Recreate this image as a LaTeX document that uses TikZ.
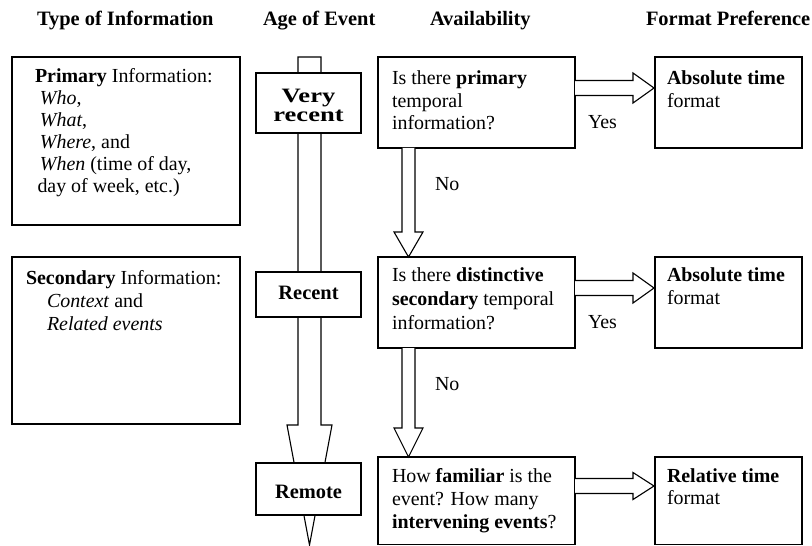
\documentclass[tikz,border=0pt]{standalone}
\usepackage{fontspec}
\setmainfont{Liberation Serif}
\usetikzlibrary{calc}
\newcommand\mlines[2]{\vtop{\baselineskip=#1\lineskiplimit=-100bp\lineskip=0pt\halign{##\hfil\cr#2\crcr}}}
\newcommand\mlinesc[2]{\vtop{\baselineskip=#1\lineskiplimit=-100bp\lineskip=0pt\halign{\hfil##\hfil\cr#2\crcr}}}
\begin{document}
\begin{tikzpicture}[x=1bp,y=-1bp,
  box/.style={draw, fill=white, line width=1.1bp, inner sep=0pt, outer sep=0pt, anchor=north west},
  txt/.style={inner sep=0pt, outer sep=0pt, anchor=base west, font=\fontsize{20}{23}\selectfont},
  head/.style={txt, font=\fontsize{20.5}{23}\selectfont\bfseries},
  age/.style={inner sep=0pt, outer sep=0pt, anchor=base, font=\fontsize{20.5}{23}\selectfont\bfseries},
  blk/.style={draw, fill=white, line width=1.1bp, line join=miter}]
\useasboundingbox (0,0) rectangle (812,546);

% headers
\node[head] (h1) at (37,26) {Type of Information};
\node[head] (h2) at (263,26) {Age of Event};
\node[head] (h3) at (430,26) {Availability};
\node[head] (h4) at (646,26) {Format Preference};

% big age arrow
\coordinate (atop) at (309.5,57);
\coordinate (atip) at (309.5,545);
\draw[blk] ($(atop)+(-11.5,0)$) -- ($(atip)+(-11.5,-120)$) -- ($(atip)+(-22.5,-120)$) -- (atip)
  -- ($(atip)+(22.5,-120)$) -- ($(atip)+(11.5,-120)$) -- ($(atop)+(11.5,0)$) -- cycle;

% information boxes
\node[box, minimum width=228bp, minimum height=168bp] (info1) at (12,57) {};
\node[box, minimum width=228bp, minimum height=167bp] (info2) at (12,257) {};
\node[txt] (info1t) at ($(info1.north west)+(23,25.5)$) {\mlines{22bp}{%
  \textbf{Primary} Information:\cr
  \ \textit{Who},\cr
  \ \textit{What},\cr
  \ \textit{Where}, and\cr
  \ \textit{When} (time of day,\cr
  \hspace*{2.5bp}day of week, etc.)\cr}};
\node[txt] (info2t) at ($(info2.north west)+(14,28)$) {\mlines{22.5bp}{%
  \textbf{Secondary} Information:\cr
  \hspace*{21bp}\textit{Context} and\cr
  \hspace*{21bp}\textit{Related events}\cr}};

% age boxes
\node[box, minimum width=105bp, minimum height=60bp] (vr) at (256,73) {};
\node[box, minimum width=105bp, minimum height=45bp] (rc) at (256,272) {};
\node[box, minimum width=105bp, minimum height=52bp] (rm) at (256,463) {};
\node[age, font=\fontsize{20.5}{23}\selectfont\bfseries\addfontfeature{FakeStretch=1.3}] (vrt) at ($(vr.north)+(0,30)$) {\mlinesc{19bp}{Very\cr recent\cr}};
\node[age] (rct) at ($(rc.north)+(0,28)$) {Recent};
\node[age] (rmt) at ($(rm.north)+(0,35)$) {Remote};

% question boxes
\node[box, minimum width=197bp, minimum height=91bp] (q1) at (378,57) {};
\node[box, minimum width=197bp, minimum height=91bp] (q2) at (378,257) {};
\node[box, minimum width=197bp, minimum height=87.5bp] (q3) at (378,457) {};
\node[txt] (q1t) at ($(q1.north west)+(14,28)$) {\mlines{22.5bp}{%
  Is there \textbf{primary}\cr temporal\cr information?\cr}};
\node[txt] (q2t) at ($(q2.north west)+(14,25)$) {\mlines{23.5bp}{%
  Is there \textbf{distinctive}\cr \textbf{secondary} temporal\cr information?\cr}};
\node[txt] (q3t) at ($(q3.north west)+(14,25)$) {\mlines{23bp}{%
  How \textbf{familiar} is the\cr event? How many\cr \textbf{intervening events}?\cr}};

% format boxes
\node[box, minimum width=147bp, minimum height=91bp] (f1) at (655,57) {};
\node[box, minimum width=147bp, minimum height=91bp] (f2) at (655,257) {};
\node[box, minimum width=147bp, minimum height=87.5bp] (f3) at (655,457) {};
\node[txt] (f1t) at ($(f1.north west)+(12,28)$) {\mlines{22.5bp}{\textbf{Absolute time}\cr format\cr}};
\node[txt] (f2t) at ($(f2.north west)+(12,25)$) {\mlines{22.5bp}{\textbf{Absolute time}\cr format\cr}};
\node[txt] (f3t) at ($(f3.north west)+(12,25)$) {\mlines{22.5bp}{\textbf{Relative time}\cr format\cr}};

% yes arrows
\coordinate (r1s) at ($(q1.north east)+(0,31)$);
\coordinate (r1e) at ($(f1.north west)+(0,31)$);
\coordinate (r2s) at ($(q2.north east)+(0,31)$);
\coordinate (r2e) at ($(f2.north west)+(0,31)$);
\coordinate (r3s) at ($(q3.north east)+(0,29)$);
\coordinate (r3e) at ($(f3.north west)+(0,29)$);
\foreach \s/\e/\h in {r1s/r1e/15, r2s/r2e/15, r3s/r3e/13.5}{
  \draw[blk] ($(\s)+(0,-7.5)$) -- ($(\e)+(-22,-7.5)$) -- ($(\e)+(-22,-\h)$) -- ($(\e)+(-1,0)$)
    -- ($(\e)+(-22,\h)$) -- ($(\e)+(-22,7.5)$) -- ($(\s)+(0,7.5)$);
}
\node[txt] (yes1) at (588,129) {Yes};
\node[txt] (yes2) at (588,328) {Yes};

% no arrows
\coordinate (d1s) at ($(q1.south west)+(30.5,0)$);
\coordinate (d1e) at ($(q2.north west)+(30.5,0)$);
\coordinate (d2s) at ($(q2.south west)+(30.5,0)$);
\coordinate (d2e) at ($(q3.north west)+(30.5,0)$);
\draw[blk] ($(d1s)+(-6.5,0)$) -- ($(d1e)+(-6.5,-25)$) -- ($(d1e)+(-14.5,-25)$) -- (d1e)
  -- ($(d1e)+(14.5,-25)$) -- ($(d1e)+(6.5,-25)$) -- ($(d1s)+(6.5,0)$);
\draw[blk] ($(d2s)+(-6.5,0)$) -- ($(d2e)+(-6.5,-29)$) -- ($(d2e)+(-14.5,-29)$) -- (d2e)
  -- ($(d2e)+(14.5,-29)$) -- ($(d2e)+(6.5,-29)$) -- ($(d2s)+(6.5,0)$);
\node[txt] (no1) at (435,191) {No};
\node[txt] (no2) at (435,390) {No};
\end{tikzpicture}
\end{document}
